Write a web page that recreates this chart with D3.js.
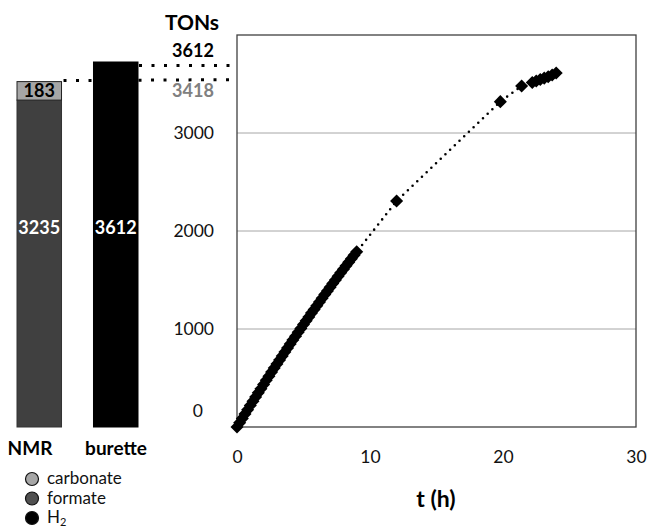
<!DOCTYPE html>
<html>
<head>
<meta charset="utf-8">
<script src="https://cdn.jsdelivr.net/npm/d3@7"></script>
<style>
  html, body { margin: 0; padding: 0; background: #fff; }
  text { font-family: Lato, "Open Sans", sans-serif; }
</style>
</head>
<body>
<div id="idMyCanvas"></div>
<script>
// ---- data ----
let bar_names = ["NMR", "burette"];
let carbonate_ton = [183, 0];
let formate_ton = [3235, 0];
let h2_ton = [0, 3612];

let t_hours = [0, 0.2, 0.4, 0.6, 0.8, 1.0, 1.2, 1.4, 1.6, 1.8, 2.0, 2.2, 2.4, 2.6, 2.8,
               3.0, 3.2, 3.4, 3.6, 3.8, 4.0, 4.2, 4.4, 4.6, 4.8, 5.0, 5.2, 5.4, 5.6, 5.8,
               6.0, 6.2, 6.4, 6.6, 6.8, 7.0, 7.2, 7.4, 7.6, 7.8, 8.0, 8.2, 8.4, 8.6, 8.8, 9.0,
               12.0, 19.8, 21.4, 22.2, 22.5, 22.8, 23.1, 23.4, 23.7, 24.0];
let ton_values = [0, 44, 88, 132, 176, 219, 263, 306, 349, 391, 434, 476, 518, 560, 601,
                  643, 684, 725, 766, 806, 846, 887, 926, 966, 1006, 1045, 1084, 1123, 1162, 1200,
                  1238, 1276, 1314, 1352, 1389, 1427, 1464, 1500, 1537, 1573, 1610, 1646, 1681, 1717, 1752, 1787,
                  2306, 3320, 3480, 3515, 3530, 3545, 3560, 3575, 3592, 3612];

let x_ticks = [0, 10, 20, 30];
let y_ticks = [0, 1000, 2000, 3000];

// ---- canvas ----
let svg_obj = d3.select("#idMyCanvas")
                .append("svg")
                  .attr("width", 647)
                  .attr("height", 530)
                  .attr("xmlns", "http://www.w3.org/2000/svg");

let tick_size = "17.5px";
let label_size = "18px";

// ---- scales ----
let x_scale = d3.scaleLinear().domain([0, 30]).range([237, 636]);
let y_scale = d3.scaleLinear().domain([0, 4000]).range([427, 35]);
let bar_x = d3.scaleBand().domain(bar_names).range([17, 138]).paddingInner(0.418).paddingOuter(0);
let bar_y = d3.scaleLinear().domain([0, 3612]).range([427, 62]);

// ---- scatter panel ----
svg_obj.append("g")
    .selectAll("line")
    .data(y_ticks.filter(d => d > 0))
    .join("line")
      .attr("x1", x_scale(0))
      .attr("x2", x_scale(30))
      .attr("y1", d => y_scale(d))
      .attr("y2", d => y_scale(d))
      .attr("stroke", "#a6a6a6")
      .attr("stroke-width", 1);

svg_obj.append("rect")
    .attr("x", x_scale(0))
    .attr("y", y_scale(4000))
    .attr("width", x_scale(30) - x_scale(0))
    .attr("height", y_scale(0) - y_scale(4000))
    .attr("fill", "none")
    .attr("stroke", "#404040")
    .attr("stroke-width", 1.3);

let x_axis = svg_obj.append("g")
    .attr("transform", "translate(0, 451)")
    .call(d3.axisBottom(x_scale).tickValues(x_ticks).tickFormat(d3.format("d")).tickSize(0).tickPadding(0));
x_axis.select(".domain").remove();
x_axis.selectAll("text")
    .attr("font-family", "Lato, sans-serif")
    .attr("font-size", tick_size)
    .attr("fill", "#111");

let y_axis = svg_obj.append("g")
    .attr("transform", "translate(214, 0)")
    .call(d3.axisLeft(y_scale).tickValues(y_ticks).tickFormat(d3.format("d")).tickSize(0).tickPadding(0));
y_axis.select(".domain").remove();
y_axis.selectAll("text")
    .attr("font-family", "Lato, sans-serif")
    .attr("font-size", tick_size)
    .attr("fill", "#111")
    .attr("x", d => d === 0 ? -11 : 0)
    .attr("dy", d => d === 0 ? "-0.62em" : "0.32em");

let pts = t_hours.map((t, i) => [t, ton_values[i]]);

svg_obj.append("path")
    .datum(pts)
    .attr("d", d3.line().x(d => x_scale(d[0])).y(d => y_scale(d[1])))
    .attr("fill", "none")
    .attr("stroke", "#000")
    .attr("stroke-width", 2.6)
    .attr("stroke-linecap", "round")
    .attr("stroke-dasharray", "0 6.5");

let diamond = d3.symbol().type(d3.symbolSquare).size(85);
svg_obj.append("g")
    .selectAll("path")
    .data(pts)
    .join("path")
      .attr("d", diamond)
      .attr("transform", d => "translate(" + x_scale(d[0]) + "," + y_scale(d[1]) + ") rotate(45)")
      .attr("fill", "#000");

svg_obj.append("text")
    .attr("x", 436)
    .attr("y", 507)
    .attr("text-anchor", "middle")
    .attr("font-size", "23px")
    .attr("font-weight", "bold")
    .text("t (h)");

svg_obj.append("text")
    .attr("x", 192)
    .attr("y", 30)
    .attr("text-anchor", "middle")
    .attr("font-size", "21px")
    .attr("font-weight", "bold")
    .text("TONs");

// ---- bars ----
let nmr_total = carbonate_ton[0] + formate_ton[0];

// dotted guide lines (NMR one sits behind the burette bar)
svg_obj.append("line")
    .attr("x1", bar_x("NMR") + bar_x.bandwidth() + 2)
    .attr("x2", x_scale(0))
    .attr("y1", bar_y(nmr_total) - 1)
    .attr("y2", bar_y(nmr_total) - 2)
    .attr("stroke", "#000")
    .attr("stroke-width", 3)
    .attr("stroke-dasharray", "3 9.5");

svg_obj.append("line")
    .attr("x1", bar_x("burette") + bar_x.bandwidth() + 1)
    .attr("x2", x_scale(0) - 6)
    .attr("y1", bar_y(h2_ton[1]) + 3.5)
    .attr("y2", bar_y(h2_ton[1]) + 3.5)
    .attr("stroke", "#000")
    .attr("stroke-width", 3)
    .attr("stroke-dasharray", "3 9.5");

// formate segment
svg_obj.append("rect")
    .attr("x", bar_x("NMR"))
    .attr("y", bar_y(formate_ton[0]))
    .attr("width", bar_x.bandwidth())
    .attr("height", bar_y(0) - bar_y(formate_ton[0]))
    .attr("fill", "#404040")
    .attr("stroke", "#333")
    .attr("stroke-width", 1);

// carbonate segment
svg_obj.append("rect")
    .attr("x", bar_x("NMR"))
    .attr("y", bar_y(nmr_total))
    .attr("width", bar_x.bandwidth())
    .attr("height", bar_y(formate_ton[0]) - bar_y(nmr_total))
    .attr("fill", "#a6a6a6")
    .attr("stroke", "#222")
    .attr("stroke-width", 1);

// burette bar
svg_obj.append("rect")
    .attr("x", bar_x("burette"))
    .attr("y", bar_y(h2_ton[1]))
    .attr("width", bar_x.bandwidth())
    .attr("height", bar_y(0) - bar_y(h2_ton[1]))
    .attr("fill", "#000")
    .attr("stroke", "#000")
    .attr("stroke-width", 1);

let nmr_cx = bar_x("NMR") + bar_x.bandwidth() / 2;
let bur_cx = bar_x("burette") + bar_x.bandwidth() / 2;

svg_obj.append("text")
    .attr("x", nmr_cx)
    .attr("y", (bar_y(nmr_total) + bar_y(formate_ton[0])) / 2 + 6)
    .attr("text-anchor", "middle")
    .attr("font-size", label_size)
    .attr("font-weight", "bold")
    .attr("fill", "#000")
    .text(carbonate_ton[0]);

svg_obj.append("text")
    .attr("x", nmr_cx)
    .attr("y", 234)
    .attr("text-anchor", "middle")
    .attr("font-size", label_size)
    .attr("font-weight", "bold")
    .attr("fill", "#fff")
    .text(formate_ton[0]);

svg_obj.append("text")
    .attr("x", bur_cx)
    .attr("y", 234)
    .attr("text-anchor", "middle")
    .attr("font-size", label_size)
    .attr("font-weight", "bold")
    .attr("fill", "#fff")
    .text(h2_ton[1]);

svg_obj.append("text")
    .attr("x", 193)
    .attr("y", 57)
    .attr("text-anchor", "middle")
    .attr("font-size", label_size)
    .attr("font-weight", "bold")
    .attr("fill", "#000")
    .text(h2_ton[1]);

svg_obj.append("text")
    .attr("x", 193)
    .attr("y", 97)
    .attr("text-anchor", "middle")
    .attr("font-size", label_size)
    .attr("font-weight", "bold")
    .attr("fill", "#808080")
    .text(nmr_total);

svg_obj.append("text")
    .attr("x", 30)
    .attr("y", 455)
    .attr("text-anchor", "middle")
    .attr("font-size", "19px")
    .attr("font-weight", "bold")
    .text("NMR");

svg_obj.append("text")
    .attr("x", 116)
    .attr("y", 455)
    .attr("text-anchor", "middle")
    .attr("font-size", "19px")
    .attr("font-weight", "bold")
    .text("burette");

// ---- legend ----
let legend_items = [
  { name: "carbonate", fill: "#a6a6a6" },
  { name: "formate", fill: "#505050" },
  { name: "H", fill: "#000" }
];
let legend = svg_obj.append("g")
    .selectAll("g")
    .data(legend_items)
    .join("g")
      .attr("transform", (d, i) => "translate(32," + (479 + i * 19.5) + ")");
legend.append("circle")
    .attr("r", 6.5)
    .attr("fill", d => d.fill)
    .attr("stroke", "#111")
    .attr("stroke-width", 1.2);
let legend_text = legend.append("text")
    .attr("x", 15)
    .attr("y", 5)
    .attr("font-size", "17px")
    .attr("fill", "#111")
    .text(d => d.name);
legend_text.filter(d => d.name === "H")
    .append("tspan")
      .attr("font-size", "11px")
      .attr("dy", 3)
      .text("2");
</script>
</body>
</html>
